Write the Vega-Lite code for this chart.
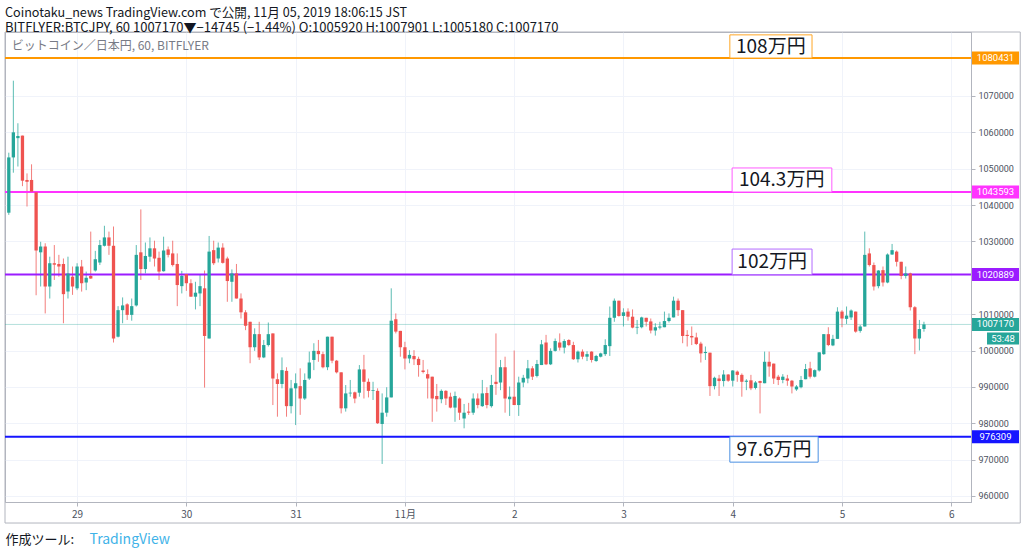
{
  "$schema": "https://vega.github.io/schema/vega-lite/v6.json",
  "autosize": {"type": "none"},
  "width": 966,
  "height": 470,
  "padding": {"left": 5, "top": 32, "right": 53, "bottom": 50},
  "background": "white",
  "title": {
    "text": "Coinotaku_news TradingView.com で公開, 11月 05, 2019 18:06:15 JST",
    "subtitle": "BITFLYER:BTCJPY, 60 1007170▼−14745 (−1.44%) O:1005920 H:1007901 L:1005180 C:1007170",
    "anchor": "start",
    "frame": "group",
    "offset": -3,
    "font": "Noto Sans CJK JP",
    "fontSize": 12.6,
    "fontWeight": "normal",
    "color": "#131722",
    "subtitleFont": "Noto Sans CJK JP",
    "subtitleFontSize": 13,
    "subtitleColor": "#131722",
    "subtitlePadding": 2
  },
  "config": {
    "view": {"stroke": "#b2b5be"},
    "font": "Noto Sans CJK JP",
    "scale": {"continuousPadding": 0},
    "axis": {"gridColor": "#f0f3fa", "domainColor": "#b2b5be", "tickColor": "#b2b5be"}
  },
  "resolve": {"axis": {"x": "independent", "y": "independent"}},
  "datasets": {
    "candles": [
      {"t":"2019-10-28T09:00Z","o":1037900,"h":1054400,"l":1037300,"c":1053100},
      {"t":"2019-10-28T10:00Z","o":1053100,"h":1074200,"l":1048900,"c":1060000},
      {"t":"2019-10-28T11:00Z","o":1058400,"h":1062500,"l":1050600,"c":1059000},
      {"t":"2019-10-28T12:00Z","o":1059100,"h":1059100,"l":1045200,"c":1046700},
      {"t":"2019-10-28T13:00Z","o":1046900,"h":1048700,"l":1039600,"c":1046400},
      {"t":"2019-10-28T14:00Z","o":1046900,"h":1051200,"l":1043400,"c":1043700},
      {"t":"2019-10-28T15:00Z","o":1043500,"h":1043700,"l":1015200,"c":1027500},
      {"t":"2019-10-28T16:00Z","o":1027000,"h":1029900,"l":1017600,"c":1028600},
      {"t":"2019-10-28T17:00Z","o":1028600,"h":1029500,"l":1010200,"c":1017600},
      {"t":"2019-10-28T18:00Z","o":1017600,"h":1025800,"l":1014300,"c":1024000},
      {"t":"2019-10-28T19:00Z","o":1024000,"h":1029000,"l":1019400,"c":1023600},
      {"t":"2019-10-28T20:00Z","o":1023800,"h":1026300,"l":1020300,"c":1023100},
      {"t":"2019-10-28T21:00Z","o":1023800,"h":1025300,"l":1007500,"c":1015500},
      {"t":"2019-10-28T22:00Z","o":1016200,"h":1025800,"l":1014300,"c":1021200},
      {"t":"2019-10-28T23:00Z","o":1020300,"h":1023100,"l":1015300,"c":1017600},
      {"t":"2019-10-29T00:00Z","o":1017100,"h":1024000,"l":1016600,"c":1023100},
      {"t":"2019-10-29T01:00Z","o":1023100,"h":1024900,"l":1016200,"c":1018500},
      {"t":"2019-10-29T02:00Z","o":1018700,"h":1021700,"l":1016600,"c":1020000},
      {"t":"2019-10-29T03:00Z","o":1020500,"h":1032700,"l":1019700,"c":1019800},
      {"t":"2019-10-29T04:00Z","o":1022000,"h":1027400,"l":1021700,"c":1025100},
      {"t":"2019-10-29T05:00Z","o":1024200,"h":1030400,"l":1023500,"c":1029000},
      {"t":"2019-10-29T06:00Z","o":1028800,"h":1034300,"l":1028600,"c":1031100},
      {"t":"2019-10-29T07:00Z","o":1031100,"h":1032700,"l":1026300,"c":1028800},
      {"t":"2019-10-29T08:00Z","o":1028800,"h":1034100,"l":1002200,"c":1003300},
      {"t":"2019-10-29T09:00Z","o":1003800,"h":1012200,"l":1003600,"c":1011100},
      {"t":"2019-10-29T10:00Z","o":1011100,"h":1014600,"l":1007500,"c":1012400},
      {"t":"2019-10-29T11:00Z","o":1012700,"h":1013000,"l":1008400,"c":1009800},
      {"t":"2019-10-29T12:00Z","o":1009800,"h":1014300,"l":1008200,"c":1012200},
      {"t":"2019-10-29T13:00Z","o":1012400,"h":1029000,"l":1012100,"c":1026300},
      {"t":"2019-10-29T14:00Z","o":1027000,"h":1038800,"l":1019400,"c":1022400},
      {"t":"2019-10-29T15:00Z","o":1022400,"h":1029700,"l":1021200,"c":1026000},
      {"t":"2019-10-29T16:00Z","o":1025800,"h":1031100,"l":1024400,"c":1028100},
      {"t":"2019-10-29T17:00Z","o":1028100,"h":1030200,"l":1023100,"c":1025300},
      {"t":"2019-10-29T18:00Z","o":1025500,"h":1027200,"l":1019400,"c":1021700},
      {"t":"2019-10-29T19:00Z","o":1021800,"h":1031300,"l":1021700,"c":1027500},
      {"t":"2019-10-29T20:00Z","o":1027800,"h":1028600,"l":1025600,"c":1026300},
      {"t":"2019-10-29T21:00Z","o":1026700,"h":1030200,"l":1023100,"c":1023500},
      {"t":"2019-10-29T22:00Z","o":1023800,"h":1026700,"l":1012200,"c":1018000},
      {"t":"2019-10-29T23:00Z","o":1017700,"h":1021900,"l":1015700,"c":1020500},
      {"t":"2019-10-30T00:00Z","o":1021000,"h":1021000,"l":1016400,"c":1018500},
      {"t":"2019-10-30T01:00Z","o":1018500,"h":1019600,"l":1014800,"c":1014800},
      {"t":"2019-10-30T02:00Z","o":1014800,"h":1018900,"l":1011300,"c":1015900},
      {"t":"2019-10-30T03:00Z","o":1015700,"h":1020800,"l":1012200,"c":1017700},
      {"t":"2019-10-30T04:00Z","o":1017100,"h":1022000,"l":989800,"c":1004000},
      {"t":"2019-10-30T05:00Z","o":1003300,"h":1031500,"l":1003300,"c":1027200},
      {"t":"2019-10-30T06:00Z","o":1027600,"h":1030200,"l":1023500,"c":1024000},
      {"t":"2019-10-30T07:00Z","o":1025300,"h":1029700,"l":1024200,"c":1028300},
      {"t":"2019-10-30T08:00Z","o":1028300,"h":1029500,"l":1023900,"c":1024100},
      {"t":"2019-10-30T09:00Z","o":1025300,"h":1025800,"l":1013400,"c":1019100},
      {"t":"2019-10-30T10:00Z","o":1018900,"h":1022300,"l":1013400,"c":1021200},
      {"t":"2019-10-30T11:00Z","o":1021200,"h":1023800,"l":1014300,"c":1014300},
      {"t":"2019-10-30T12:00Z","o":1014300,"h":1015700,"l":1008800,"c":1010500},
      {"t":"2019-10-30T13:00Z","o":1010500,"h":1011100,"l":1005600,"c":1006800},
      {"t":"2019-10-30T14:00Z","o":1007900,"h":1007900,"l":996500,"c":1000900},
      {"t":"2019-10-30T15:00Z","o":1000900,"h":1006100,"l":999900,"c":1004500},
      {"t":"2019-10-30T16:00Z","o":1004500,"h":1007900,"l":997400,"c":998100},
      {"t":"2019-10-30T17:00Z","o":998100,"h":1002900,"l":997900,"c":1001500},
      {"t":"2019-10-30T18:00Z","o":1001500,"h":1007700,"l":1001100,"c":1004500},
      {"t":"2019-10-30T19:00Z","o":1004700,"h":1004700,"l":985000,"c":992300},
      {"t":"2019-10-30T20:00Z","o":992100,"h":993700,"l":981800,"c":990800},
      {"t":"2019-10-30T21:00Z","o":990800,"h":998100,"l":989600,"c":994600},
      {"t":"2019-10-30T22:00Z","o":994400,"h":995400,"l":981800,"c":984700},
      {"t":"2019-10-30T23:00Z","o":984700,"h":991900,"l":982700,"c":989600},
      {"t":"2019-10-31T00:00Z","o":989600,"h":993700,"l":979500,"c":991000},
      {"t":"2019-10-31T01:00Z","o":990200,"h":995100,"l":982300,"c":986800},
      {"t":"2019-10-31T02:00Z","o":986800,"h":993700,"l":986400,"c":991900},
      {"t":"2019-10-31T03:00Z","o":992300,"h":999700,"l":991900,"c":996700},
      {"t":"2019-10-31T04:00Z","o":997400,"h":1002000,"l":994600,"c":999900},
      {"t":"2019-10-31T05:00Z","o":999900,"h":1002900,"l":996900,"c":999000},
      {"t":"2019-10-31T06:00Z","o":999000,"h":999700,"l":995100,"c":995400},
      {"t":"2019-10-31T07:00Z","o":995400,"h":1003800,"l":994600,"c":1003800},
      {"t":"2019-10-31T08:00Z","o":1003800,"h":1003800,"l":996500,"c":997200},
      {"t":"2019-10-31T09:00Z","o":997200,"h":997400,"l":993700,"c":994000},
      {"t":"2019-10-31T10:00Z","o":994000,"h":994000,"l":982700,"c":984100},
      {"t":"2019-10-31T11:00Z","o":984100,"h":990500,"l":983200,"c":988200},
      {"t":"2019-10-31T12:00Z","o":988200,"h":991900,"l":987300,"c":988400},
      {"t":"2019-10-31T13:00Z","o":988500,"h":988700,"l":985500,"c":986800},
      {"t":"2019-10-31T14:00Z","o":988400,"h":996000,"l":987300,"c":994800},
      {"t":"2019-10-31T15:00Z","o":994800,"h":998800,"l":986800,"c":991400},
      {"t":"2019-10-31T16:00Z","o":991400,"h":992300,"l":987100,"c":988900},
      {"t":"2019-10-31T17:00Z","o":988900,"h":991400,"l":986400,"c":989100},
      {"t":"2019-10-31T18:00Z","o":988900,"h":989600,"l":979800,"c":980000},
      {"t":"2019-10-31T19:00Z","o":979800,"h":988200,"l":968800,"c":982900},
      {"t":"2019-10-31T20:00Z","o":982900,"h":989900,"l":981800,"c":987100},
      {"t":"2019-10-31T21:00Z","o":987100,"h":1017100,"l":987100,"c":1008200},
      {"t":"2019-10-31T22:00Z","o":1008600,"h":1010200,"l":1004700,"c":1005200},
      {"t":"2019-10-31T23:00Z","o":1005400,"h":1005400,"l":998300,"c":1000900},
      {"t":"2019-11-01T00:00Z","o":1000900,"h":1002400,"l":994800,"c":997800},
      {"t":"2019-11-01T01:00Z","o":997800,"h":1000100,"l":996500,"c":998800},
      {"t":"2019-11-01T02:00Z","o":998500,"h":1000100,"l":996000,"c":997600},
      {"t":"2019-11-01T03:00Z","o":997700,"h":998300,"l":992800,"c":996000},
      {"t":"2019-11-01T04:00Z","o":994500,"h":997400,"l":993700,"c":994100},
      {"t":"2019-11-01T05:00Z","o":993500,"h":994800,"l":986800,"c":992300},
      {"t":"2019-11-01T06:00Z","o":992800,"h":992800,"l":980400,"c":986800},
      {"t":"2019-11-01T07:00Z","o":987500,"h":990800,"l":983200,"c":986600},
      {"t":"2019-11-01T08:00Z","o":986600,"h":989300,"l":985500,"c":988900},
      {"t":"2019-11-01T09:00Z","o":988900,"h":989100,"l":985000,"c":986800},
      {"t":"2019-11-01T10:00Z","o":987300,"h":988400,"l":984100,"c":984300},
      {"t":"2019-11-01T11:00Z","o":984300,"h":988700,"l":980400,"c":987500},
      {"t":"2019-11-01T12:00Z","o":986800,"h":987100,"l":980900,"c":982900},
      {"t":"2019-11-01T13:00Z","o":981300,"h":985300,"l":978600,"c":982900},
      {"t":"2019-11-01T14:00Z","o":983200,"h":985600,"l":982300,"c":982900},
      {"t":"2019-11-01T15:00Z","o":982900,"h":988200,"l":982300,"c":986800},
      {"t":"2019-11-01T16:00Z","o":986800,"h":988200,"l":984100,"c":985000},
      {"t":"2019-11-01T17:00Z","o":984700,"h":991900,"l":984500,"c":988200},
      {"t":"2019-11-01T18:00Z","o":988300,"h":989900,"l":984100,"c":985000},
      {"t":"2019-11-01T19:00Z","o":984700,"h":993300,"l":984300,"c":990500},
      {"t":"2019-11-01T20:00Z","o":991400,"h":1004700,"l":987800,"c":990800},
      {"t":"2019-11-01T21:00Z","o":991200,"h":997400,"l":989100,"c":995400},
      {"t":"2019-11-01T22:00Z","o":995400,"h":998300,"l":982900,"c":986800},
      {"t":"2019-11-01T23:00Z","o":986600,"h":990100,"l":982000,"c":987300},
      {"t":"2019-11-02T00:00Z","o":987300,"h":1000000,"l":985000,"c":985000},
      {"t":"2019-11-02T01:00Z","o":985000,"h":992800,"l":982000,"c":991200},
      {"t":"2019-11-02T02:00Z","o":991200,"h":993300,"l":989900,"c":992500},
      {"t":"2019-11-02T03:00Z","o":992300,"h":997400,"l":991000,"c":995100},
      {"t":"2019-11-02T04:00Z","o":995100,"h":995700,"l":991900,"c":992800},
      {"t":"2019-11-02T05:00Z","o":993000,"h":997400,"l":992600,"c":996300},
      {"t":"2019-11-02T06:00Z","o":996000,"h":1002900,"l":996000,"c":1001700},
      {"t":"2019-11-02T07:00Z","o":1002200,"h":1004300,"l":996000,"c":996200},
      {"t":"2019-11-02T08:00Z","o":996200,"h":1000600,"l":996000,"c":999900},
      {"t":"2019-11-02T09:00Z","o":999900,"h":1003300,"l":999700,"c":1002600},
      {"t":"2019-11-02T10:00Z","o":1002200,"h":1004700,"l":1000000,"c":1000800},
      {"t":"2019-11-02T11:00Z","o":1000800,"h":1003100,"l":999200,"c":1002600},
      {"t":"2019-11-02T12:00Z","o":1002900,"h":1003100,"l":1001200,"c":1001500},
      {"t":"2019-11-02T13:00Z","o":1001500,"h":1002400,"l":997400,"c":997600},
      {"t":"2019-11-02T14:00Z","o":997600,"h":1000000,"l":996700,"c":999700},
      {"t":"2019-11-02T15:00Z","o":999700,"h":1000300,"l":997600,"c":998300},
      {"t":"2019-11-02T16:00Z","o":998300,"h":999800,"l":997100,"c":999000},
      {"t":"2019-11-02T17:00Z","o":999700,"h":999800,"l":996700,"c":997400},
      {"t":"2019-11-02T18:00Z","o":997100,"h":998800,"l":996900,"c":998500},
      {"t":"2019-11-02T19:00Z","o":998300,"h":999400,"l":998100,"c":999200},
      {"t":"2019-11-02T20:00Z","o":999000,"h":1003100,"l":998500,"c":1001500},
      {"t":"2019-11-02T21:00Z","o":1001200,"h":1012100,"l":998500,"c":1009000},
      {"t":"2019-11-02T22:00Z","o":1009000,"h":1014300,"l":1007900,"c":1013700},
      {"t":"2019-11-02T23:00Z","o":1013700,"h":1013700,"l":1009300,"c":1009500},
      {"t":"2019-11-03T00:00Z","o":1009500,"h":1011600,"l":1006600,"c":1010500},
      {"t":"2019-11-03T01:00Z","o":1010700,"h":1011600,"l":1008200,"c":1009300},
      {"t":"2019-11-03T02:00Z","o":1009300,"h":1011300,"l":1006100,"c":1006300},
      {"t":"2019-11-03T03:00Z","o":1006300,"h":1008400,"l":1004500,"c":1006500},
      {"t":"2019-11-03T04:00Z","o":1006400,"h":1009300,"l":1006100,"c":1009100},
      {"t":"2019-11-03T05:00Z","o":1009000,"h":1009000,"l":1006600,"c":1007900},
      {"t":"2019-11-03T06:00Z","o":1008000,"h":1008800,"l":1004700,"c":1005500},
      {"t":"2019-11-03T07:00Z","o":1005500,"h":1007500,"l":1004100,"c":1006400},
      {"t":"2019-11-03T08:00Z","o":1006300,"h":1007900,"l":1005800,"c":1006600},
      {"t":"2019-11-03T09:00Z","o":1006400,"h":1010700,"l":1006400,"c":1008100},
      {"t":"2019-11-03T10:00Z","o":1008100,"h":1010200,"l":1007700,"c":1009000},
      {"t":"2019-11-03T11:00Z","o":1009100,"h":1014800,"l":1009100,"c":1013700},
      {"t":"2019-11-03T12:00Z","o":1013700,"h":1014300,"l":1009500,"c":1011100},
      {"t":"2019-11-03T13:00Z","o":1011100,"h":1011100,"l":1002000,"c":1004000},
      {"t":"2019-11-03T14:00Z","o":1004300,"h":1005600,"l":1001100,"c":1004000},
      {"t":"2019-11-03T15:00Z","o":1004000,"h":1006600,"l":1001500,"c":1003600},
      {"t":"2019-11-03T16:00Z","o":1003600,"h":1004900,"l":1001500,"c":1001800},
      {"t":"2019-11-03T17:00Z","o":1001900,"h":1002400,"l":996700,"c":999200},
      {"t":"2019-11-03T18:00Z","o":999300,"h":1001100,"l":997400,"c":999600},
      {"t":"2019-11-03T19:00Z","o":999400,"h":999400,"l":987500,"c":990200},
      {"t":"2019-11-03T20:00Z","o":990200,"h":992800,"l":989300,"c":992500},
      {"t":"2019-11-03T21:00Z","o":992300,"h":993300,"l":987500,"c":991600},
      {"t":"2019-11-03T22:00Z","o":991600,"h":994600,"l":990100,"c":993400},
      {"t":"2019-11-03T23:00Z","o":993400,"h":993500,"l":991400,"c":991700},
      {"t":"2019-11-04T00:00Z","o":991700,"h":994600,"l":990100,"c":994500},
      {"t":"2019-11-04T01:00Z","o":994200,"h":994500,"l":991400,"c":993300},
      {"t":"2019-11-04T02:00Z","o":993300,"h":993700,"l":987300,"c":991400},
      {"t":"2019-11-04T03:00Z","o":991400,"h":992100,"l":989100,"c":991700},
      {"t":"2019-11-04T04:00Z","o":991800,"h":993300,"l":989100,"c":989600},
      {"t":"2019-11-04T05:00Z","o":989700,"h":991600,"l":989300,"c":991200},
      {"t":"2019-11-04T06:00Z","o":991600,"h":991700,"l":982700,"c":991100},
      {"t":"2019-11-04T07:00Z","o":991000,"h":999700,"l":991000,"c":996900},
      {"t":"2019-11-04T08:00Z","o":996900,"h":999700,"l":992800,"c":995600},
      {"t":"2019-11-04T09:00Z","o":996400,"h":996400,"l":990800,"c":992300},
      {"t":"2019-11-04T10:00Z","o":992800,"h":993300,"l":990500,"c":991900},
      {"t":"2019-11-04T11:00Z","o":991900,"h":993500,"l":991000,"c":992800},
      {"t":"2019-11-04T12:00Z","o":992300,"h":993300,"l":990300,"c":991700},
      {"t":"2019-11-04T13:00Z","o":991700,"h":991900,"l":988200,"c":990100},
      {"t":"2019-11-04T14:00Z","o":989300,"h":990500,"l":988900,"c":990100},
      {"t":"2019-11-04T15:00Z","o":989900,"h":993000,"l":989600,"c":991900},
      {"t":"2019-11-04T16:00Z","o":992100,"h":996300,"l":992100,"c":994900},
      {"t":"2019-11-04T17:00Z","o":995100,"h":996900,"l":992300,"c":992800},
      {"t":"2019-11-04T18:00Z","o":992800,"h":994800,"l":992600,"c":994600},
      {"t":"2019-11-04T19:00Z","o":994500,"h":999500,"l":994200,"c":999500},
      {"t":"2019-11-04T20:00Z","o":999000,"h":1004500,"l":998800,"c":1004500},
      {"t":"2019-11-04T21:00Z","o":1004500,"h":1006400,"l":1001200,"c":1001500},
      {"t":"2019-11-04T22:00Z","o":1001400,"h":1004300,"l":1001200,"c":1003200},
      {"t":"2019-11-04T23:00Z","o":1003200,"h":1011900,"l":1003200,"c":1010700},
      {"t":"2019-11-05T00:00Z","o":1010700,"h":1011100,"l":1006400,"c":1008800},
      {"t":"2019-11-05T01:00Z","o":1008700,"h":1012100,"l":1007300,"c":1009600},
      {"t":"2019-11-05T02:00Z","o":1009100,"h":1011300,"l":1008400,"c":1011000},
      {"t":"2019-11-05T03:00Z","o":1010700,"h":1010700,"l":1004900,"c":1005200},
      {"t":"2019-11-05T04:00Z","o":1005400,"h":1007000,"l":1004900,"c":1006600},
      {"t":"2019-11-05T05:00Z","o":1006600,"h":1032700,"l":1006600,"c":1026300},
      {"t":"2019-11-05T06:00Z","o":1026700,"h":1028100,"l":1023100,"c":1023500},
      {"t":"2019-11-05T07:00Z","o":1023500,"h":1024200,"l":1016500,"c":1017600},
      {"t":"2019-11-05T08:00Z","o":1017700,"h":1022100,"l":1017100,"c":1022000},
      {"t":"2019-11-05T09:00Z","o":1022100,"h":1023100,"l":1017600,"c":1018700},
      {"t":"2019-11-05T10:00Z","o":1018700,"h":1026700,"l":1018500,"c":1026400},
      {"t":"2019-11-05T11:00Z","o":1026400,"h":1029300,"l":1026300,"c":1027600},
      {"t":"2019-11-05T12:00Z","o":1027200,"h":1027500,"l":1023100,"c":1024400},
      {"t":"2019-11-05T13:00Z","o":1024400,"h":1024400,"l":1019600,"c":1020500},
      {"t":"2019-11-05T14:00Z","o":1020500,"h":1023100,"l":1019800,"c":1021200},
      {"t":"2019-11-05T15:00Z","o":1021200,"h":1021400,"l":1011000,"c":1011900},
      {"t":"2019-11-05T16:00Z","o":1011900,"h":1012200,"l":999000,"c":1003300},
      {"t":"2019-11-05T17:00Z","o":1003300,"h":1008400,"l":1000000,"c":1005900},
      {"t":"2019-11-05T18:00Z","o":1005920,"h":1007901,"l":1005180,"c":1007170}
    ],
    "levels": [
      {"lvl": "108万円", "p": 1080431},
      {"lvl": "104.3万円", "p": 1043593},
      {"lvl": "102万円", "p": 1020889},
      {"lvl": "97.6万円", "p": 976309},
      {"lvl": "現在値", "p": 1007170}
    ],
    "boxes": [
      {"label": "108万円", "t": "2019-11-03T23:22Z", "t2": "2019-11-04T17:25Z", "p": 1080431, "p2": 1086800, "tc": "2019-11-04T08:22Z", "pc": 1083500},
      {"label": "104.3万円", "t": "2019-11-03T23:52Z", "t2": "2019-11-04T21:46Z", "p": 1043593, "p2": 1050200, "tc": "2019-11-04T10:45Z", "pc": 1046800},
      {"label": "102万円", "t": "2019-11-03T23:52Z", "t2": "2019-11-04T17:25Z", "p": 1020889, "p2": 1027900, "tc": "2019-11-04T08:40Z", "pc": 1024300},
      {"label": "97.6万円", "t": "2019-11-03T23:22Z", "t2": "2019-11-04T18:46Z", "p": 976309, "p2": 969300, "tc": "2019-11-04T09:04Z", "pc": 972700}
    ]
  },
  "layer": [
    {
      "data": {"name": "candles"},
      "mark": {"type": "rule", "strokeWidth": 1, "opacity": 0.75},
      "encoding": {
        "x": {
          "field": "t", "type": "temporal",
          "scale": {"type": "utc", "domain": [{"year": 2019, "month": 10, "date": 28, "hours": 8, "minutes": 10, "utc": true}, {"year": 2019, "month": 11, "date": 6, "hours": 4, "minutes": 20, "utc": true}], "nice": false, "padding": 0},
          "axis": {
            "values": [
              {"year": 2019, "month": 10, "date": 29, "utc": true},
              {"year": 2019, "month": 10, "date": 30, "utc": true},
              {"year": 2019, "month": 10, "date": 31, "utc": true},
              {"year": 2019, "month": 11, "date": 1, "utc": true},
              {"year": 2019, "month": 11, "date": 2, "utc": true},
              {"year": 2019, "month": 11, "date": 3, "utc": true},
              {"year": 2019, "month": 11, "date": 4, "utc": true},
              {"year": 2019, "month": 11, "date": 5, "utc": true},
              {"year": 2019, "month": 11, "date": 6, "utc": true}
            ],
            "labelExpr": "utcdate(datum.value) == 1 ? '11月' : utcFormat(datum.value, '%-d')",
            "labelFont": "Noto Sans CJK JP",
            "labelFontSize": 10,
            "labelColor": "#4c525e",
            "labelPadding": 3,
            "tickSize": 4,
            "grid": true,
            "title": "作成ツール:",
            "titleFont": "Noto Sans CJK JP",
            "titleFontSize": 13,
            "titleFontWeight": "normal",
            "titleColor": "#131722",
            "titleAlign": "left",
            "titleBaseline": "middle",
            "titleX": 0,
            "titleY": 37
          }
        },
        "y": {
          "field": "l", "type": "quantitative",
          "scale": {"domain": [958340, 1087590], "nice": false, "zero": false, "padding": 0},
          "axis": {
            "orient": "right",
            "values": [960000, 970000, 980000, 990000, 1000000, 1010000, 1030000, 1040000, 1050000, 1060000, 1070000],
            "format": "d",
            "labelFont": "Roboto",
            "labelFontSize": 9,
            "labelColor": "#4c525e",
            "labelPadding": 3,
            "tickSize": 4,
            "grid": true,
            "title": "TradingView",
            "titleFont": "Noto Sans CJK JP",
            "titleFontSize": 14,
            "titleFontWeight": "normal",
            "titleColor": "#3fb3e8",
            "titleAngle": 0,
            "titleAlign": "left",
            "titleBaseline": "middle",
            "titleX": -882,
            "titleY": 507
          }
        },
        "y2": {"field": "h"},
        "color": {"condition": {"test": "datum.c >= datum.o", "value": "#26a69a"}, "value": "#ef5350"}
      }
    },
    {
      "data": {"values": [{"label": "frame"}]},
      "mark": {"type": "rect", "fillOpacity": 0, "stroke": "#b2b5be", "strokeWidth": 1},
      "encoding": {
        "x": {"datum": {"year": 2019, "month": 10, "date": 28, "hours": 8, "minutes": 10, "utc": true}, "type": "temporal", "axis": null},
        "x2": {"datum": {"year": 2019, "month": 11, "date": 6, "hours": 15, "minutes": 9, "utc": true}},
        "y": {"datum": 1087590, "type": "quantitative", "axis": null},
        "y2": {"datum": 952560}
      }
    },
    {
      "data": {"name": "levels"},
      "mark": {"type": "rule"},
      "encoding": {
        "y": {"field": "p", "type": "quantitative", "axis": null},
        "color": {"field": "lvl", "type": "nominal", "legend": null, "scale": {"domain": ["108万円", "104.3万円", "102万円", "97.6万円", "現在値"], "range": ["#ff9800", "#ff33ff", "#9b1cff", "#1515ff", "#26a69a"]}},
        "strokeWidth": {"condition": {"test": "datum.lvl == '現在値'", "value": 1}, "value": 2},
        "opacity": {"condition": {"test": "datum.lvl == '現在値'", "value": 0.35}, "value": 1}
      }
    },
    {
      "data": {"name": "candles"},
      "mark": {"type": "bar", "size": 3.3},
      "encoding": {
        "x": {"field": "t", "type": "temporal", "axis": null},
        "y": {"field": "o", "type": "quantitative", "axis": null},
        "y2": {"field": "c"},
        "color": {"condition": {"test": "datum.c >= datum.o", "value": "#26a69a"}, "value": "#ef5350"}
      }
    },
    {
      "data": {"name": "boxes"},
      "mark": {"type": "rect", "fill": "white", "strokeWidth": 1},
      "encoding": {
        "x": {"field": "t", "type": "temporal", "axis": null},
        "x2": {"field": "t2"},
        "y": {"field": "p", "type": "quantitative", "axis": null},
        "y2": {"field": "p2"},
        "stroke": {"field": "label", "type": "nominal", "legend": null, "scale": {"domain": ["108万円", "104.3万円", "102万円", "97.6万円"], "range": ["#ffa726", "#ff5cff", "#b36bff", "#4a90e2"]}}
      }
    },
    {
      "data": {"name": "boxes"},
      "mark": {"type": "text", "font": "Noto Sans CJK JP", "fontSize": 19, "color": "#131722", "align": "center", "baseline": "middle"},
      "encoding": {
        "x": {"field": "tc", "type": "temporal", "axis": null},
        "y": {"field": "pc", "type": "quantitative", "axis": null},
        "text": {"field": "label"}
      }
    },
    {
      "data": {"name": "levels"},
      "mark": {"type": "tick", "orient": "horizontal", "size": 47, "thickness": 13, "opacity": 1},
      "encoding": {
        "x": {"datum": {"year": 2019, "month": 11, "date": 6, "hours": 9, "minutes": 43, "utc": true}, "type": "temporal", "axis": null},
        "y": {"field": "p", "type": "quantitative", "axis": null},
        "color": {"field": "lvl", "type": "nominal", "legend": null}
      }
    },
    {
      "data": {"name": "levels"},
      "mark": {"type": "text", "font": "Roboto", "fontSize": 9.5, "color": "white", "align": "center", "baseline": "middle"},
      "encoding": {
        "x": {"datum": {"year": 2019, "month": 11, "date": 6, "hours": 9, "minutes": 43, "utc": true}, "type": "temporal", "axis": null},
        "y": {"field": "p", "type": "quantitative", "axis": null},
        "text": {"field": "p", "type": "quantitative", "format": "d"}
      }
    },
    {
      "data": {"values": [{"label": "53:48"}]},
      "mark": {"type": "tick", "orient": "horizontal", "size": 32, "thickness": 12, "color": "#26a69a", "opacity": 1},
      "encoding": {
        "x": {"datum": {"year": 2019, "month": 11, "date": 6, "hours": 11, "minutes": 22, "utc": true}, "type": "temporal", "axis": null},
        "y": {"datum": 1003300, "type": "quantitative", "axis": null}
      }
    },
    {
      "data": {"values": [{"label": "53:48"}]},
      "mark": {"type": "text", "font": "Roboto", "fontSize": 9.5, "color": "white", "align": "center", "baseline": "middle"},
      "encoding": {
        "x": {"datum": {"year": 2019, "month": 11, "date": 6, "hours": 11, "minutes": 22, "utc": true}, "type": "temporal", "axis": null},
        "y": {"datum": 1003300, "type": "quantitative", "axis": null},
        "text": {"field": "label"}
      }
    },
    {
      "data": {"values": [{"label": "ビットコイン／日本円, 60, BITFLYER"}]},
      "mark": {"type": "text", "font": "Noto Sans CJK JP", "fontSize": 12, "color": "#787b86", "align": "left", "baseline": "middle"},
      "encoding": {
        "x": {"datum": {"year": 2019, "month": 10, "date": 28, "hours": 9, "minutes": 38, "utc": true}, "type": "temporal", "axis": null},
        "y": {"datum": 1083700, "type": "quantitative", "axis": null},
        "text": {"field": "label"}
      }
    }
  ]
}
